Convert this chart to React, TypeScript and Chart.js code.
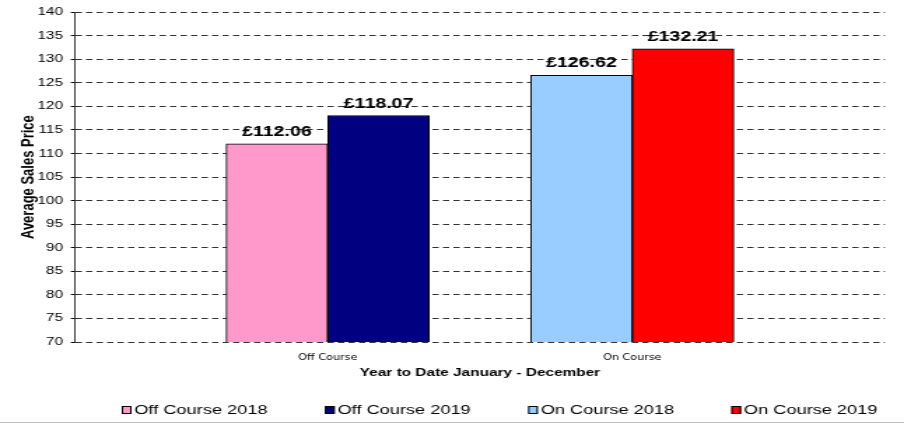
import React, { useEffect, useRef } from 'react';
import { Chart, registerables } from 'chart.js';

Chart.register(...registerables);

// ---- data ----
const categories = ['Off Course', 'On Course'];
const seriesLabels = ['Off Course 2018', 'Off Course 2019', 'On Course 2018', 'On Course 2019'];
const offCourse2018 = [112.06, null];
const offCourse2019 = [118.07, null];
const onCourse2018 = [null, 126.62];
const onCourse2019 = [null, 132.21];
const seriesColors = ['#FF99CC', '#000080', '#99CCFF', '#FF0000'];
const yMin = 70;
const yMax = 140;
const yStep = 5;
const yTitle = 'Average Sales Price';
const xTitle = 'Year to Date January - December';

// ---- layout (the reference is a horizontally stretched sheet chart) ----
const PAGE_W = 904;
const PAGE_H = 425;
const STRETCH = 1.4;
const CANVAS_W = Math.round(PAGE_W / STRETCH);
const FONT = '"Liberation Sans", Arial, sans-serif';

const legendLayout = { start: 87, spacing: 145.2, centerY: 410, boxW: 7, boxH: 8, gap: 2 };

const valueLabels = {
  id: 'valueLabels',
  afterDatasetsDraw(chart: any) {
    const ctx = chart.ctx;
    ctx.save();
    ctx.font = `bold 14px ${FONT}`;
    ctx.fillStyle = '#000';
    ctx.textAlign = 'center';
    ctx.textBaseline = 'alphabetic';
    chart.data.datasets.forEach((ds: any, di: number) => {
      const meta = chart.getDatasetMeta(di);
      meta.data.forEach((el: any, i: number) => {
        const v = ds.data[i] && ds.data[i].y;
        if (v === null || v === undefined) return;
        ctx.fillText('£' + Number(v).toFixed(2), el.x, el.y - 8);
      });
    });
    ctx.restore();
  },
};

const sheetLegend = {
  id: 'sheetLegend',
  afterDraw(chart: any) {
    const ctx = chart.ctx;
    const L = legendLayout;
    ctx.save();
    ctx.font = `13px ${FONT}`;
    ctx.textAlign = 'left';
    ctx.textBaseline = 'middle';
    chart.data.datasets.forEach((ds: any, i: number) => {
      const x = L.start + i * L.spacing;
      const y = L.centerY - L.boxH / 2;
      ctx.fillStyle = ds.backgroundColor;
      ctx.fillRect(x, y, L.boxW, L.boxH);
      ctx.strokeStyle = '#000';
      ctx.lineWidth = 1;
      ctx.strokeRect(x + 0.5, y + 0.5, L.boxW - 1, L.boxH - 1);
      ctx.fillStyle = '#000';
      ctx.fillText(ds.label, x + L.boxW + L.gap, L.centerY);
    });
    ctx.fillStyle = '#bdbdbd';
    ctx.fillRect(0, 422, chart.width, 1);
    ctx.restore();
  },
};

export default function App() {
  const canvasRef = useRef<HTMLCanvasElement | null>(null);

  useEffect(() => {
    if (!canvasRef.current) return;
    Chart.defaults.font.family = FONT;
    const series = [offCourse2018, offCourse2019, onCourse2018, onCourse2019];
    const chart = new Chart(canvasRef.current, {
      type: 'bar',
      data: {
        datasets: series.map((values, si) => ({
          label: seriesLabels[si],
          data: values.map((v, i) => ({ x: i, y: v })),
          backgroundColor: seriesColors[si],
          borderColor: '#000',
          borderWidth: 1,
          barThickness: 72.6,
          skipNull: true,
        })) as any,
      },
      options: {
        animation: false,
        responsive: false,
        devicePixelRatio: 1,
        layout: { padding: { left: 0, right: CANVAS_W - 632.4, top: 12, bottom: 41 } },
        plugins: {
          legend: { display: false },
          tooltip: { enabled: false },
        },
        scales: {
          x: {
            type: 'linear',
            min: -0.83,
            max: 1.83,
            offset: false,
            bounds: 'data',
            afterBuildTicks: (s: any) => {
              s.ticks = categories.map((_, i) => ({ value: i }));
            },
            ticks: {
              callback: (v: any) => categories[v as number] ?? '',
              font: { family: '"DejaVu Sans", sans-serif', size: 8 },
              color: '#000',
              padding: 11,
              maxRotation: 0,
              autoSkip: false,
            },
            grid: { display: false, drawTicks: false },
            border: { display: false },
            title: {
              display: true,
              text: xTitle,
              font: { size: 11, weight: 'bold' },
              color: '#000',
              padding: { top: 0, bottom: 4.5 },
            },
            afterFit: (s: any) => {
              s.height = 42;
            },
          },
          y: {
            min: yMin,
            max: yMax,
            ticks: { stepSize: yStep, font: { size: 11 }, color: '#000', padding: 5.6 },
            grid: { color: '#333', lineWidth: 1, tickLength: 3, drawTicks: true, tickColor: '#000' },
            border: { display: true, color: '#333', width: 1, dash: [4.5, 3] },
            title: {
              display: true,
              text: yTitle,
              font: { size: 13, weight: 'bold' },
              color: '#000',
              padding: { top: 13, bottom: 0 },
            },
            afterFit: (s: any) => {
              s.width = 53.6;
            },
          },
        } as any,
      },
      plugins: [valueLabels, sheetLegend],
    });
    return () => chart.destroy();
  }, []);

  return (
    <div style={{ position: 'absolute', left: 0, top: 0, width: PAGE_W, height: PAGE_H, background: '#fff' }}>
      <canvas
        ref={canvasRef}
        width={CANVAS_W}
        height={PAGE_H}
        style={{ width: `${PAGE_W}px`, height: `${PAGE_H}px`, display: 'block' }}
      />
    </div>
  );
}
